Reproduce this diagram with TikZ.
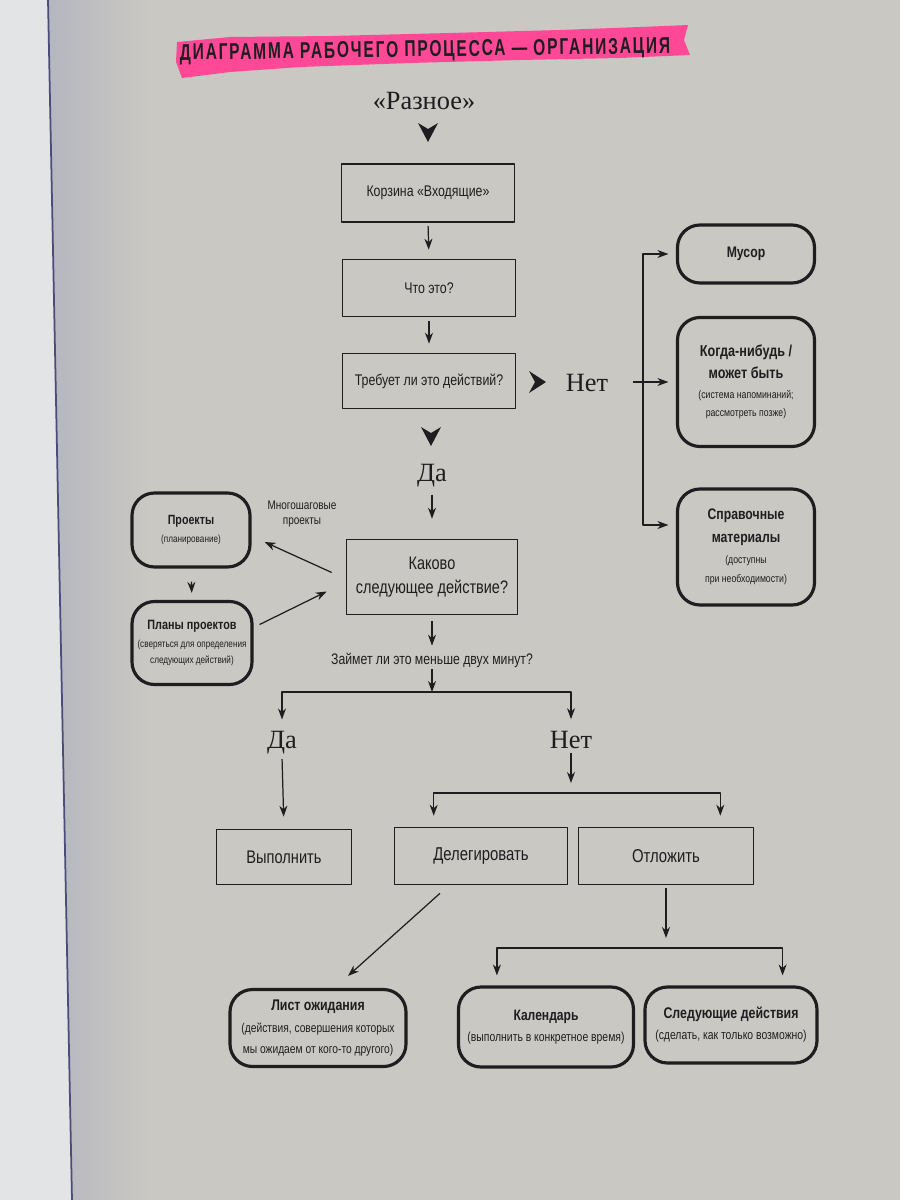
\documentclass[tikz,border=0pt]{standalone}
\usepackage{fontspec}
\setmainfont{Liberation Sans}[FakeStretch=0.8]
\newfontfamily\serifru{Liberation Serif}
\newfontfamily\headfont{Liberation Sans}[FakeStretch=0.68,LetterSpace=8]
\usetikzlibrary{arrows.meta,calc}

\definecolor{paper}{RGB}{202,200,194}
\definecolor{margin}{RGB}{226,228,229}
\definecolor{marker}{RGB}{255,72,150}
\definecolor{ink}{RGB}{30,30,32}
\definecolor{edgeshade}{RGB}{180,182,192}

\newcommand{\fs}[2]{\fontsize{#1}{#2}\selectfont}
\newcommand{\sm}[1]{{\mdseries\fs{6.2}{10.5}#1}}
\newcommand{\tipdown}[2]{\fill[ink] (#1-10,#2-19) -- (#1,#2) -- (#1+10,#2-19) -- (#1,#2-13) -- cycle;}
\newcommand{\tipright}[2]{\fill[ink] (#1-17,#2-11) -- (#1,#2) -- (#1-17,#2+11) -- (#1-11,#2) -- cycle;}

\tikzset{
  sqbox/.style={draw=ink, line width=0.9pt, align=center, inner sep=0pt, text=ink},
  rndbox/.style={draw=ink, line width=1.8pt, rounded corners=0.45cm, align=center, inner sep=0pt, text=ink},
  dims/.style 2 args={minimum width=#1*0.02cm, minimum height=#2*0.02cm},
  flow/.style={draw=ink, line width=0.7pt, -{Stealth[length=2.2mm,width=1.6mm,inset=0.7mm]}},
  word/.style={font=\serifru\fs{15}{17}, text=ink, inner sep=1pt},
  note/.style={text=ink, align=center, inner sep=1pt}
}

\begin{document}
\begin{tikzpicture}[x=0.02cm, y=-0.02cm, line join=round]
\useasboundingbox (0,0) rectangle (900,1200);

\fill[paper] (0,0) rectangle (900,1200);
\shade[left color=edgeshade, right color=paper] (44,0) rectangle (150,1200);
\fill[margin] (0,0) -- (48,0) -- (72,1200) -- (0,1200) -- cycle;
\draw[black!55!blue!40!gray, line width=1pt] (48,0) -- (72,1200);

\fill[marker] (177,42) -- (230,37) -- (330,36) -- (450,33) -- (560,30) -- (640,27) -- (688,25) -- (684,40) -- (690,55)
  -- (620,58) -- (520,60) -- (410,63) -- (300,67) -- (230,72) -- (182,78) -- (176,62) -- cycle;
\node[font=\headfont\bfseries\fs{13}{15}, text=ink, rotate=0.8] (title) at (425,51) {ДИАГРАММА РАБОЧЕГО ПРОЦЕССА — ОРГАНИЗАЦИЯ};

\node[word] (raw) at (424,101) {«Разное»};
\tipdown{428}{142}

\node[sqbox, dims={173}{58}, font=\fs{8.8}{11}] (inbox) at (428,193) {Корзина «Входящие»};
\node[sqbox, dims={173}{57}, font=\fs{8.8}{11}] (what) at (429,288) {Что это?};
\node[sqbox, dims={173}{55}, font=\fs{8.8}{11}] (need) at (429,381) {Требует ли это действий?};

\draw[flow, shorten <=0.06cm, shorten >=0.18cm] (inbox.south) -- (what.north);
\draw[flow, shorten <=0.08cm, shorten >=0.18cm] (what.south) -- (need.north);

\tipright{546}{382}
\node[word] (no1) at (587,383) {Нет};

\node[rndbox, dims={137}{58}, font=\bfseries\fs{8.7}{11}] (trash) at (746,254) {Мусор};
\node[rndbox, dims={137}{129}, font=\bfseries\fs{9}{12.5}] (someday) at (746,382)
  {Когда-нибудь /\\может быть\\[-1pt]\sm{(система напоминаний;}\\[-2pt]\sm{рассмотреть позже)}};
\node[rndbox, dims={137}{116}, font=\bfseries\fs{8.7}{13}] (ref) at (746,547)
  {Справочные\\материалы\\[-1pt]\sm{(доступны}\\[-2pt]\sm{при необходимости)}};

\coordinate (fork) at (643,382);
\coordinate (nostart) at (633,382);
\draw[flow, shorten >=0.15cm] (nostart) -- (someday.west);
\draw[flow, shorten >=0.15cm] (fork) |- (trash.west);
\draw[flow, shorten >=0.15cm] (fork) |- ($(ref.west)+(0,-22)$);

\tipdown{431}{446}
\node[word] (yes1) at (432,476) {Да};

\node[sqbox, dims={171}{75}, font=\fs{10.3}{14}] (nextact) at (432,577) {Каково\\следующее действие?};
\draw[flow, shorten <=0.1cm, shorten >=0.4cm] (yes1.south) -- (nextact.north);

\node[rndbox, dims={118}{74}, font=\bfseries\fs{7.6}{10}] (projects) at (191,530)
  {Проекты\\{\mdseries\fs{5.8}{9}(планирование)}};
\node[rndbox, dims={120}{83}, font=\bfseries\fs{7.7}{10}] (plans) at (192,643)
  {Планы проектов\\{\mdseries\fs{5.8}{9}(сверяться для определения}\\[-1pt]{\mdseries\fs{5.8}{9}следующих действий)}};
\draw[flow, shorten <=0.26cm, shorten >=0.14cm] (projects.south) -- (plans.north);

\node[note, font=\fs{7.1}{9}] (multi) at (302,514) {Многошаговые\\проекты};
\draw[flow] ($(nextact.west)+(-14,-4.5)$) -- ($(projects.east)+(13,12)$);
\draw[flow] ($(plans.east)+(6,-18.5)$) -- ($(nextact.west)+(-19,14.5)$);

\node[note, font=\fs{8.7}{10}] (quest) at (432,660) {Займет ли это меньше двух минут?};
\draw[flow, shorten <=0.12cm, shorten >=0.1cm] (nextact.south) -- (quest.north);

\coordinate (split) at (432,692);
\draw[flow] (quest.south) -- (split);
\node[word] (yes2) at (282,743) {Да};
\node[word] (no2) at (571,740) {Нет};
\draw[flow, shorten >=0.2cm] (split) -| (yes2.north);
\draw[flow, shorten >=0.2cm] (split) -| (no2.north);

\node[sqbox, dims={135}{55}, font=\fs{10.4}{12}] (do) at (284,857) {Выполнить};
\node[sqbox, dims={173}{57}, font=\fs{10.6}{12}] (delegate) at (481,856) {Делегировать};
\node[sqbox, dims={175}{57}, font=\fs{10.6}{12}] (defer) at (666,856) {Отложить};
\draw[flow, shorten <=0.05cm, shorten >=0.24cm] (yes2.south) -- (do.north);

\coordinate (split2) at (571,793);
\draw[flow, shorten <=0.05cm, shorten >=0.2cm] (no2.south) -- (split2);
\draw[flow, shorten >=0.22cm] (split2) -| ($(delegate.north west)+(40,0)$);
\draw[flow, shorten >=0.22cm] (split2) -| ($(defer.north east)+(-34,0)$);

\node[rndbox, dims={176}{77}, font=\bfseries\fs{8.8}{12}] (waiting) at (318,1028)
  {Лист ожидания\\{\mdseries\fs{7.3}{11}(действия, совершения которых}\\{\mdseries\fs{7.3}{11}мы ожидаем от кого-то другого)}};
\node[rndbox, dims={175}{80}, font=\bfseries\fs{8.6}{12}] (calendar) at (546,1027)
  {Календарь\\{\mdseries\fs{7.4}{11}(выполнить в конкретное время)}};
\node[rndbox, dims={172}{76}, font=\bfseries\fs{8.8}{12}] (nextlist) at (731,1025)
  {Следующие действия\\{\mdseries\fs{7.4}{11}(сделать, как только возможно)}};

\draw[flow] ($(delegate.south)+(-41,8)$) -- ($(waiting.north)+(30,-12)$);
\coordinate (split3) at (666,948);
\draw[flow, shorten <=0.06cm, shorten >=0.2cm] (defer.south) -- (split3);
\draw[flow, shorten >=0.2cm] (split3) -| ($(calendar.north west)+(40,0)$);
\draw[flow, shorten >=0.2cm] (split3) -| ($(nextlist.north east)+(-36,0)$);

\end{tikzpicture}
\end{document}
